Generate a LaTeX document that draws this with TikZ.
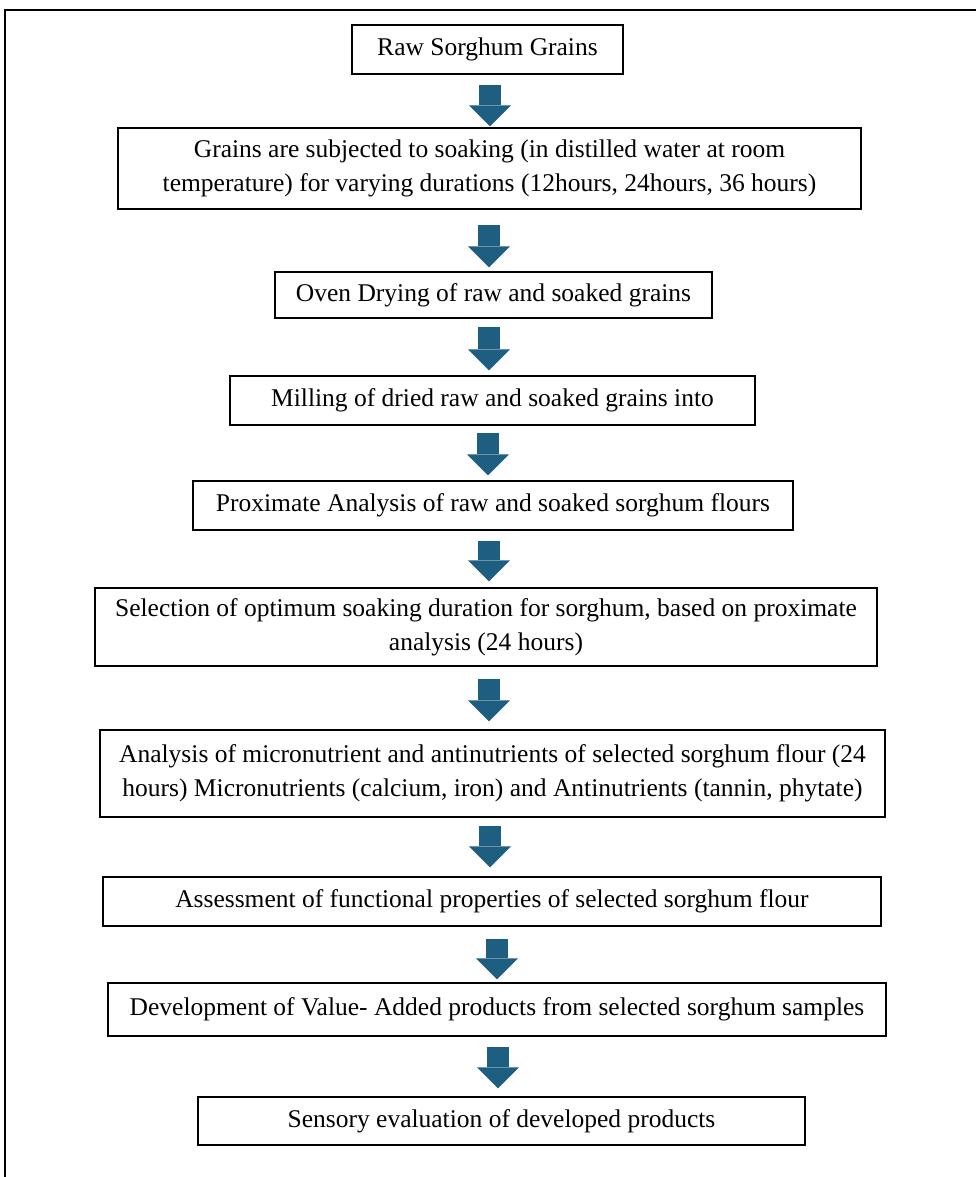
\documentclass[tikz,border=0pt]{standalone}
\usepackage{fontspec}
\setmainfont{Liberation Serif}
\usetikzlibrary{arrows.meta}
\definecolor{arrowblue}{RGB}{30,94,128}

\begin{document}
\begin{tikzpicture}[x=1pt,y=-1pt,
  stepbox/.style={draw=black,line width=1.4pt,rectangle,inner sep=0pt,align=center,
    font=\fontsize{25.5}{34}\selectfont},
  flowarrow/.style={draw=arrowblue,line width=22pt,
    -{Triangle[width=42pt,length=21pt,line width=0pt]}}]
\useasboundingbox (0,0) rectangle (976,1177);
\draw [black,line width=1.4pt] (5,1177) -- (5,10) -- (976,10);
% boxes
\node [stepbox,minimum width=271pt,minimum height=49pt] (raw) at (487.5,49.5) {Raw Sorghum Grains};
\node [stepbox,minimum width=743pt,minimum height=81pt] (soak) at (489.5,168.5)
  {Grains are subjected to soaking (in distilled water at room\\temperature) for varying durations (12hours, 24hours, 36 hours)};
\node [stepbox,minimum width=437pt,minimum height=46pt] (oven) at (493.5,295) {Oven Drying of raw and soaked grains};
\node [stepbox,minimum width=525pt,minimum height=49pt] (mill) at (492.5,400.5) {Milling of dried raw and soaked grains into};
\node [stepbox,minimum width=600pt,minimum height=49pt] (prox) at (493,505.5) {Proximate Analysis of raw and soaked sorghum flours};
\node [stepbox,minimum width=782pt,minimum height=78pt] (select) at (486,627)
  {Selection of optimum soaking duration for sorghum, based on proximate\\analysis (24 hours)};
\node [stepbox,minimum width=785pt,minimum height=87pt] (micro) at (492.5,773.5)
  {Analysis of micronutrient and antinutrients of selected sorghum flour (24\\hours) Micronutrients (calcium, iron) and Antinutrients (tannin, phytate)};
\node [stepbox,minimum width=778pt,minimum height=49pt] (assess) at (492,901.5) {Assessment of functional properties of selected sorghum flour};
\node [stepbox,minimum width=778pt,minimum height=53pt] (dev) at (497,1009.5) {Development of Value- Added products from selected sorghum samples};
\node [stepbox,minimum width=607pt,minimum height=48pt] (sens) at (501.5,1121) {Sensory evaluation of developed products};
% arrows
\draw [flowarrow,shorten <=10pt,shorten >=1pt] (raw.south -| 490,0) -- (soak.north -| 490,0);
\draw [flowarrow,shorten <=15pt,shorten >=4pt] (soak.south -| 489,0) -- (oven.north -| 489,0);
\draw [flowarrow,shorten <=8pt,shorten >=5pt] (oven.south -| 489,0) -- (mill.north -| 489,0);
\draw [flowarrow,shorten <=7pt,shorten >=5pt] (mill.south -| 488,0) -- (prox.north -| 488,0);
\draw [flowarrow,shorten <=10pt,shorten >=6pt] (prox.south -| 489,0) -- (select.north -| 489,0);
\draw [flowarrow,shorten <=12pt,shorten >=8pt] (select.south -| 489,0) -- (micro.north -| 489,0);
\draw [flowarrow,shorten <=8pt,shorten >=9pt] (micro.south -| 490,0) -- (assess.north -| 490,0);
\draw [flowarrow,shorten <=12pt,shorten >=3pt] (assess.south -| 497,0) -- (dev.north -| 497,0);
\draw [flowarrow,shorten <=10pt,shorten >=8pt] (dev.south -| 498,0) -- (sens.north -| 498,0);
\end{tikzpicture}
\end{document}
